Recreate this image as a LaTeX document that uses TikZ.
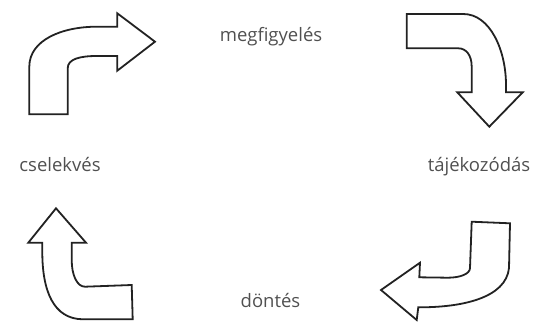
\documentclass[tikz,border=0pt]{standalone}
\usepackage{fontspec}
\setmainfont{Open Sans}
\usepackage{xcolor}
\usepackage{tikz}
\definecolor{labelgray}{HTML}{505050}
\definecolor{outline}{HTML}{222222}

\begin{document}
\begin{tikzpicture}[x=1pt,y=-1pt,
    bentarrow/.style={draw=outline,line width=1.8pt,line join=miter,fill=white},
    steplabel/.style={anchor=base,text=labelgray,font=\fontsize{18.5}{22}\selectfont,inner sep=0pt}]
          \useasboundingbox (0,0) rectangle (533,322);

          \draw[bentarrow] (29.3,114.3) -- (29.3,66.7) .. controls (29.3,40) and (62,26.7) .. (96.7,26.7)
                -- (117.3,26.7) -- (117.3,13.3) -- (155,41.7) -- (117.3,70.7) -- (117.3,56)
                -- (96.7,56) .. controls (80,56) and (67.7,59) .. (67.7,68.3) -- (67.7,114.3) -- cycle;
          \node[steplabel] (megfigyeles) at (271,41.7) {megfigyelés};

          \draw[bentarrow] (406.7,14) -- (463.3,14) .. controls (490,14) and (506,50) .. (506,85)
                -- (506,92.3) -- (522.7,92.3) -- (489.3,126.7) -- (457.3,92.3) -- (471.7,92.3)
                -- (471.7,66.7) .. controls (471.7,55) and (466,48.3) .. (458.3,48.3) -- (406.7,48.3) -- cycle;
          \node[steplabel] (tajekozodas) at (479,171.5) {tájékozódás};

          \draw[bentarrow] (471.7,221.7) -- (510,223.3) -- (509,268) .. controls (506,298) and (462,307.3) .. (420,307.3)
                -- (418.3,307.3) -- (416.7,320) -- (381,290) -- (420,262.7) -- (419.3,277.3)
                -- (448,277.7) .. controls (460,277.7) and (470,274) .. (470,268) -- cycle;
          \node[steplabel] (dontes) at (270.5,307.5) {döntés};

          \draw[bentarrow] (56,208.3) -- (86,242.7) -- (71.7,242.7) -- (71.7,260)
                .. controls (71.7,275) and (77,286.7) .. (85,286.7) -- (131.7,285) -- (132.7,319.3)
                -- (83.3,319.3) .. controls (53,319.3) and (42.3,290) .. (42.3,252) -- (42.3,242.7)
                -- (28.3,242.7) -- cycle;
          \node[steplabel] (cselekves) at (60,171.5) {cselekvés};

\end{tikzpicture}
\end{document}
